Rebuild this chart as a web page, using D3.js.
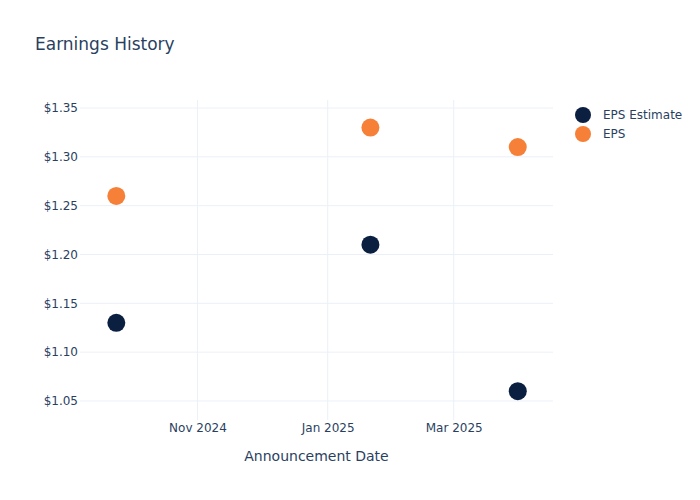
<!DOCTYPE html>
<html>
<head>
<meta charset="utf-8">
<script src="https://cdn.jsdelivr.net/npm/d3@7"></script>
<style>
  body { margin: 0; background: #fff; }
  svg { font-family: "DejaVu Sans", "Open Sans", verdana, sans-serif; }
</style>
</head>
<body>
<div id="chart"></div>
<script>
// earnings data
var dates = ["2024-09-24", "2025-01-21", "2025-03-31"];
var epsEstimate = [1.13, 1.21, 1.06];
var epsActual = [1.26, 1.33, 1.31];
var seriesNames = ["EPS Estimate", "EPS"];
var yTicks = [1.05, 1.10, 1.15, 1.20, 1.25, 1.30, 1.35];
var xTicks = ["2024-11-01", "2025-01-01", "2025-03-01"];

var width = 700, height = 500;
var margin = {top: 100, right: 147, bottom: 80, left: 80};
var textColor = '#2a3f5f';
var gridColor = '#ebf0f8';
var colors = ['#0b1f41', '#f68038'];
var fontFamily = '"DejaVu Sans", "Open Sans", verdana, sans-serif';

var parse = d3.timeParse('%Y-%m-%d');
var dayMs = 24 * 3600 * 1000;

var svg = d3.select('#chart').append('svg')
    .attr('width', width)
    .attr('height', height);

var x = d3.scaleTime()
    .domain([new Date(+parse(dates[0]) - 17 * dayMs), new Date(+parse(dates[2]) + 16.5 * dayMs)])
    .range([margin.left, width - margin.right]);

var y = d3.scaleLinear()
    .domain([1.0305, 1.3582])
    .range([height - margin.bottom, margin.top]);

// gridlines
svg.append('g').selectAll('line.hgrid')
    .data(yTicks).enter()
    .append('line')
    .attr('x1', margin.left).attr('x2', width - margin.right)
    .attr('y1', function(d) { return y(d); })
    .attr('y2', function(d) { return y(d); })
    .attr('stroke', gridColor).attr('stroke-width', 1);

svg.append('g').selectAll('line.vgrid')
    .data(xTicks).enter()
    .append('line')
    .attr('y1', margin.top).attr('y2', height - margin.bottom)
    .attr('x1', function(d) { return x(parse(d)); })
    .attr('x2', function(d) { return x(parse(d)); })
    .attr('stroke', gridColor).attr('stroke-width', 1);

// axes
var yAxis = d3.axisLeft(y)
    .tickValues(yTicks)
    .tickSize(0)
    .tickPadding(2)
    .tickFormat(function(d) { return '$' + d3.format('.2f')(d); });

var gy = svg.append('g')
    .attr('transform', 'translate(' + margin.left + ',0)')
    .call(yAxis);

var xAxis = d3.axisBottom(x)
    .tickValues(xTicks.map(parse))
    .tickSize(0)
    .tickPadding(3)
    .tickFormat(d3.timeFormat('%b %Y'));

var gx = svg.append('g')
    .attr('transform', 'translate(0,' + (height - margin.bottom) + ')')
    .call(xAxis);

[gx, gy].forEach(function(g) {
    g.attr('font-family', fontFamily).attr('font-size', 12);
    g.select('.domain').remove();
    g.selectAll('text')
        .attr('fill', textColor);
});

// axis title
svg.append('text')
    .attr('x', (margin.left + width - margin.right) / 2)
    .attr('y', 461)
    .attr('text-anchor', 'middle')
    .attr('fill', textColor)
    .style('font-size', '14px')
    .text('Announcement Date');

// chart title
svg.append('text')
    .attr('x', 35)
    .attr('y', 50)
    .attr('fill', textColor)
    .style('font-size', '17px')
    .text('Earnings History');

// points
var series = [epsEstimate, epsActual];
series.forEach(function(vals, s) {
    svg.append('g').selectAll('circle')
        .data(vals).enter()
        .append('circle')
        .attr('cx', function(d, i) { return x(parse(dates[i])); })
        .attr('cy', function(d) { return y(d); })
        .attr('r', 9)
        .attr('fill', colors[s]);
});

// legend
var legend = svg.append('g')
    .attr('transform', 'translate(583,115)');

var items = legend.selectAll('g')
    .data(seriesNames).enter()
    .append('g')
    .attr('transform', function(d, i) { return 'translate(0,' + (i * 19) + ')'; });

items.append('circle')
    .attr('r', 8)
    .attr('fill', function(d, i) { return colors[i]; });

items.append('text')
    .attr('x', 20)
    .attr('dy', '0.35em')
    .attr('fill', textColor)
    .style('font-size', '12px')
    .text(function(d) { return d; });
</script>
</body>
</html>
